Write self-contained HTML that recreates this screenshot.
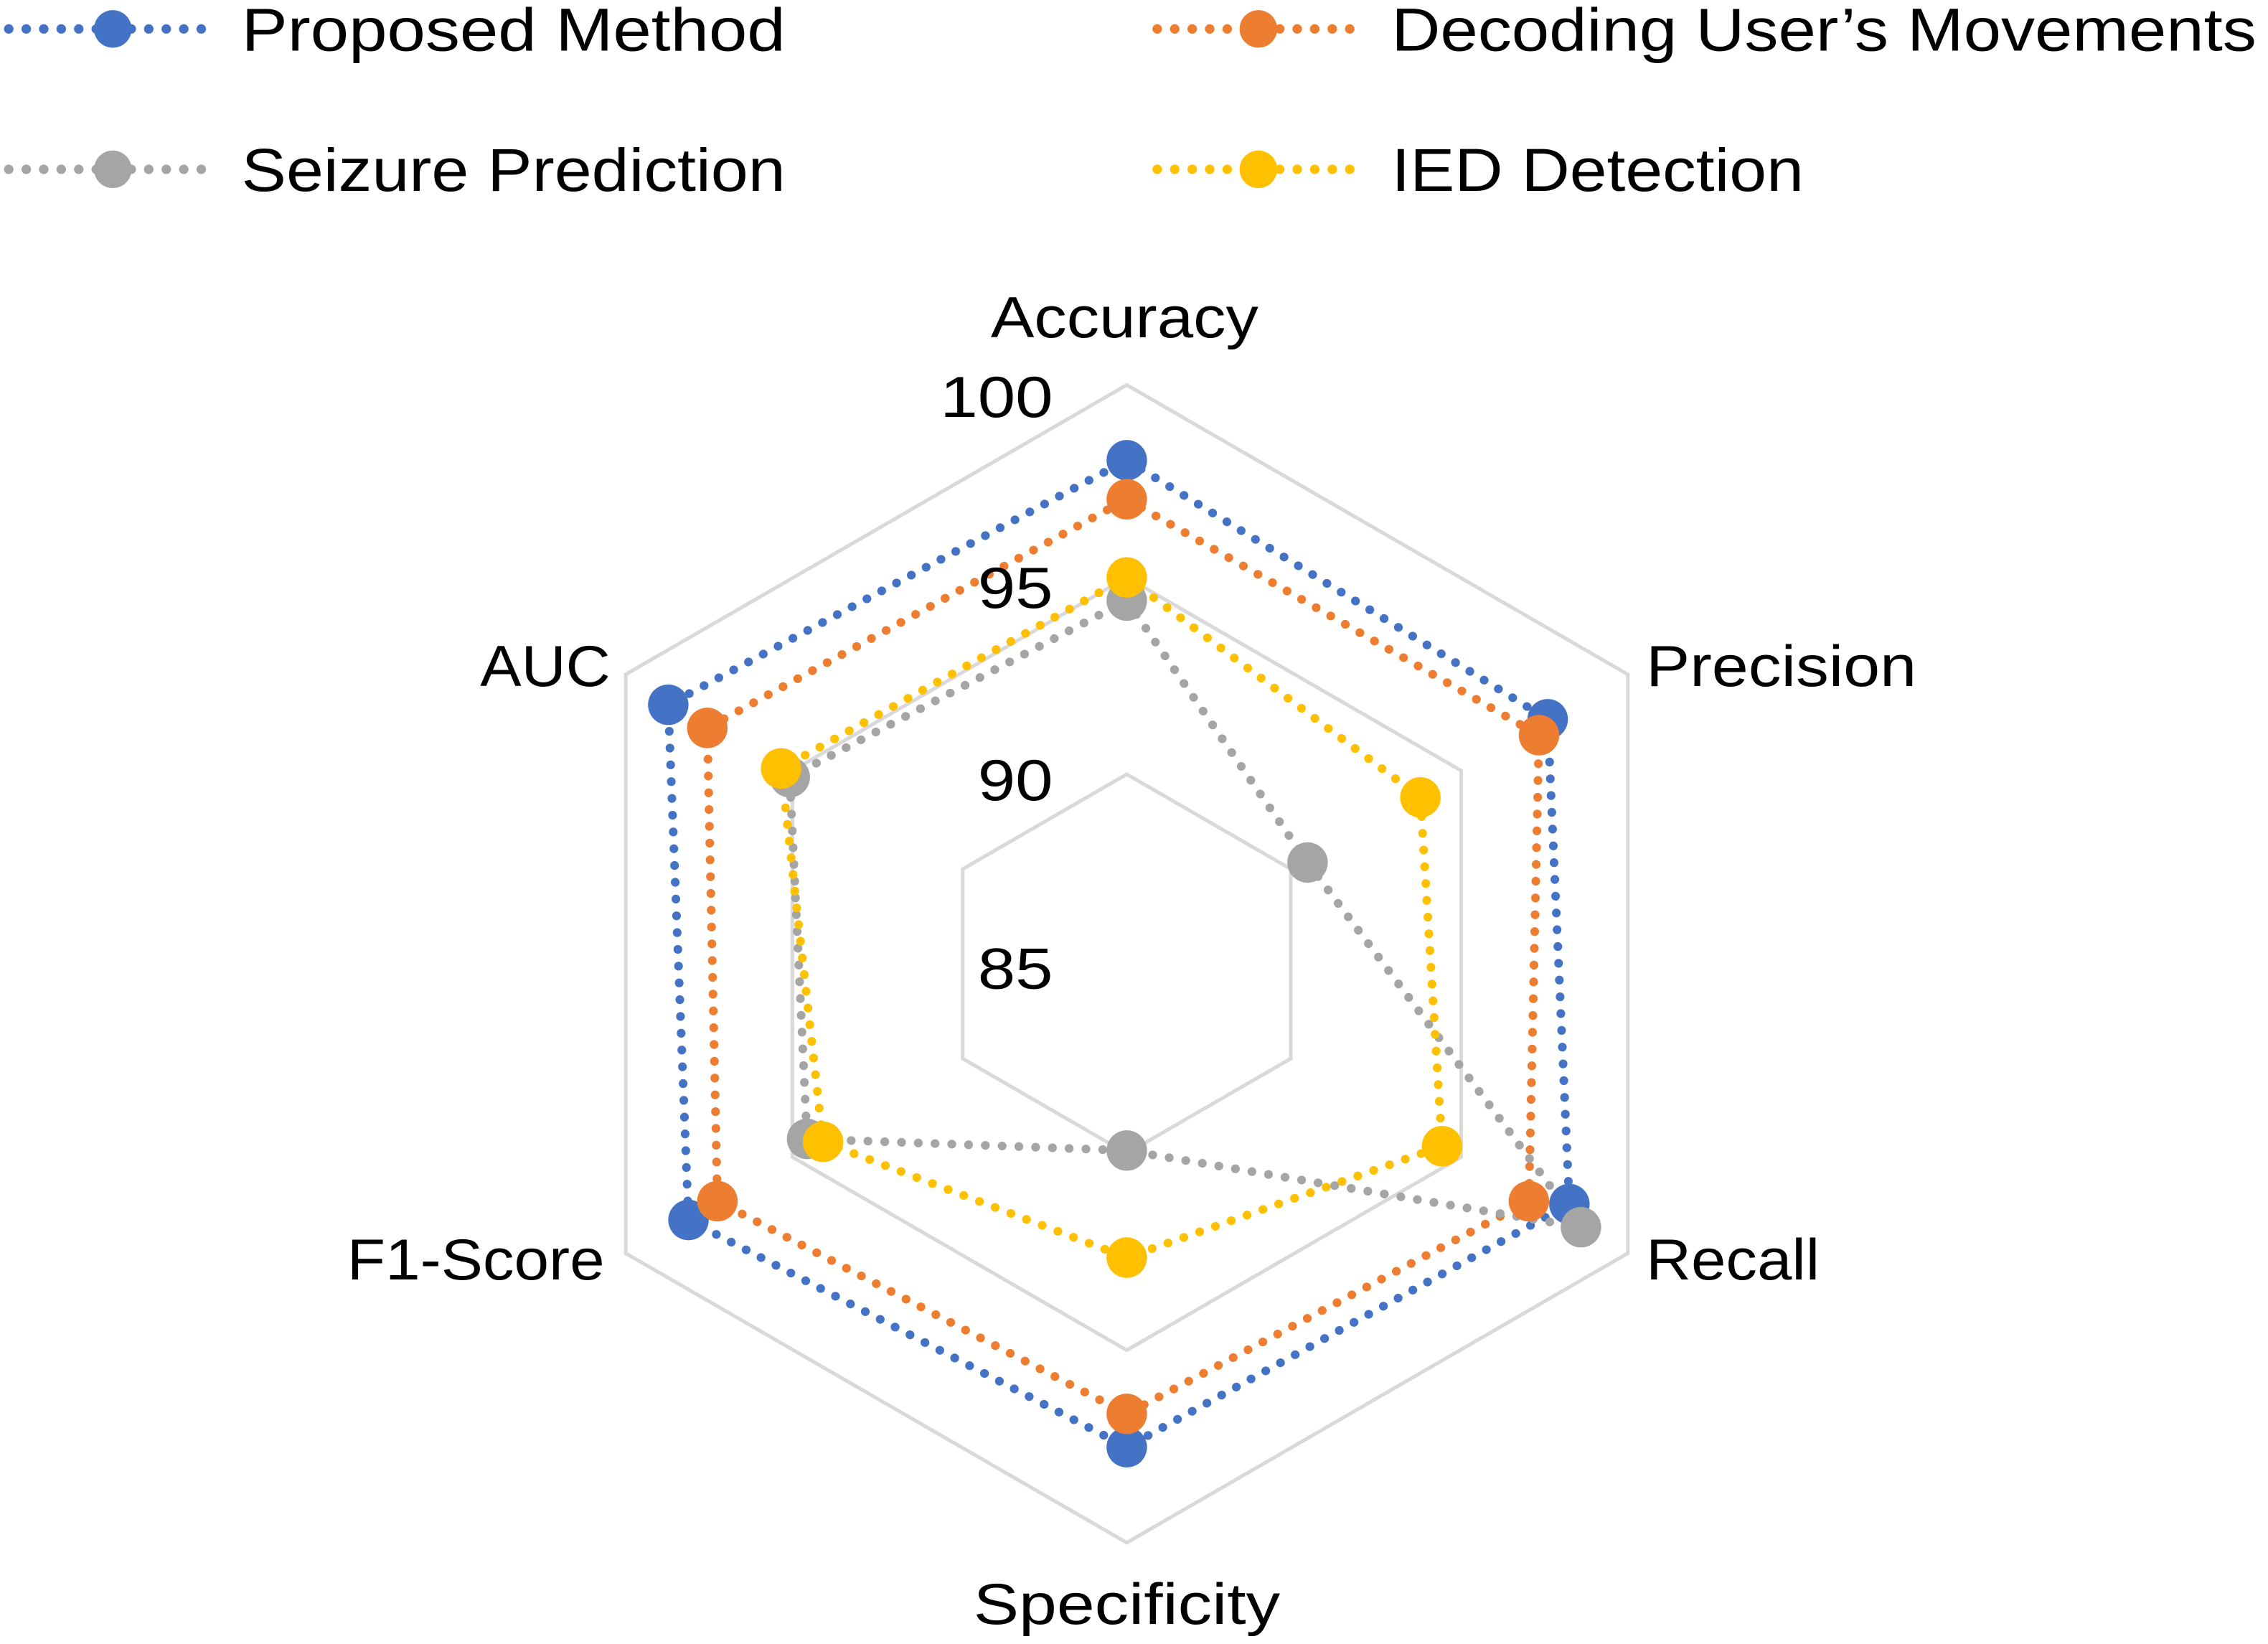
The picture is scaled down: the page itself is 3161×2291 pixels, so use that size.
<!DOCTYPE html>
<html><head><meta charset="utf-8"><style>
html,body{margin:0;padding:0;background:#fff;}
svg{display:block;}
text{font-family:"Liberation Sans",sans-serif;fill:#000;}
</style></head><body>
<svg width="3161" height="2291" viewBox="0 0 1568 1136" preserveAspectRatio="none" xmlns="http://www.w3.org/2000/svg">
<g fill="none" stroke="#d9d9d9" stroke-width="2.5">
<polygon points="779,266 1125.4,466 1125.4,866 779,1066 432.6,866 432.6,466"/>
<polygon points="779,399 1010.2,532.5 1010.2,799.5 779,933 547.8,799.5 547.8,532.5"/>
<polygon points="779,535 892.4,600.5 892.4,731.5 779,797 665.6,731.5 665.6,600.5"/>
</g>
<g fill="none" stroke-width="6" stroke-linecap="round" stroke-dasharray="0.1 11.5">
<polygon stroke="#4472c4" points="779,318 1070,497 1085,832 779,1000 476,843 462,487"/>
<polygon stroke="#ed7d31" points="779,345 1064,508 1057,830 779,977 496,830 489,503"/>
<polygon stroke="#a5a5a5" points="779,415 904,596 1093,848 779,795 558,787 546,537"/>
<polygon stroke="#ffc000" points="779,399 982,551 997,792 779,869 569,789 540,531"/>
</g>
<g fill="#4472c4"><circle cx="779" cy="318" r="14"/><circle cx="1070" cy="497" r="14"/><circle cx="1085" cy="832" r="14"/><circle cx="779" cy="1000" r="14"/><circle cx="476" cy="843" r="14"/><circle cx="462" cy="487" r="14"/></g>
<g fill="#ed7d31"><circle cx="779" cy="345" r="14"/><circle cx="1064" cy="508" r="14"/><circle cx="1057" cy="830" r="14"/><circle cx="779" cy="977" r="14"/><circle cx="496" cy="830" r="14"/><circle cx="489" cy="503" r="14"/></g>
<g fill="#a5a5a5"><circle cx="779" cy="415" r="14"/><circle cx="904" cy="596" r="14"/><circle cx="1093" cy="848" r="14"/><circle cx="779" cy="795" r="14"/><circle cx="558" cy="787" r="14"/><circle cx="546" cy="537" r="14"/></g>
<g fill="#ffc000"><circle cx="779" cy="399" r="14"/><circle cx="982" cy="551" r="14"/><circle cx="997" cy="792" r="14"/><circle cx="779" cy="869" r="14"/><circle cx="569" cy="789" r="14"/><circle cx="540" cy="531" r="14"/></g>
<g stroke-width="6.5" stroke-linecap="round" stroke-dasharray="0.1 12">
<line x1="6" y1="20" x2="150" y2="20" stroke="#4472c4"/>
<line x1="800" y1="20" x2="940" y2="20" stroke="#ed7d31"/>
<line x1="6" y1="117" x2="150" y2="117" stroke="#a5a5a5"/>
<line x1="800" y1="117" x2="940" y2="117" stroke="#ffc000"/>
</g>
<circle cx="78" cy="20" r="13" fill="#4472c4"/>
<circle cx="870" cy="20" r="13" fill="#ed7d31"/>
<circle cx="78" cy="117" r="13" fill="#a5a5a5"/>
<circle cx="870" cy="117" r="13" fill="#ffc000"/>
<g font-size="42">
<text x="167" y="35" textLength="376" lengthAdjust="spacingAndGlyphs">Proposed Method</text>
<text x="962" y="35" textLength="598" lengthAdjust="spacingAndGlyphs">Decoding User’s Movements</text>
<text x="167" y="132" textLength="376" lengthAdjust="spacingAndGlyphs">Seizure Prediction</text>
<text x="962" y="132" textLength="285" lengthAdjust="spacingAndGlyphs">IED Detection</text>
</g>
<g font-size="40">
<text x="685" y="233" textLength="185" lengthAdjust="spacingAndGlyphs">Accuracy</text>
<text x="650" y="288" textLength="78" lengthAdjust="spacingAndGlyphs">100</text>
<text x="676" y="420" textLength="52" lengthAdjust="spacingAndGlyphs">95</text>
<text x="676" y="553" textLength="52" lengthAdjust="spacingAndGlyphs">90</text>
<text x="676" y="683" textLength="52" lengthAdjust="spacingAndGlyphs">85</text>
<text x="1138" y="474" textLength="187" lengthAdjust="spacingAndGlyphs">Precision</text>
<text x="1138" y="884" textLength="120" lengthAdjust="spacingAndGlyphs">Recall</text>
<text x="673" y="1122" textLength="212" lengthAdjust="spacingAndGlyphs">Specificity</text>
<text x="240" y="884" textLength="178" lengthAdjust="spacingAndGlyphs">F1-Score</text>
<text x="332" y="474" textLength="90" lengthAdjust="spacingAndGlyphs">AUC</text>
</g>
</svg>
</body></html>
